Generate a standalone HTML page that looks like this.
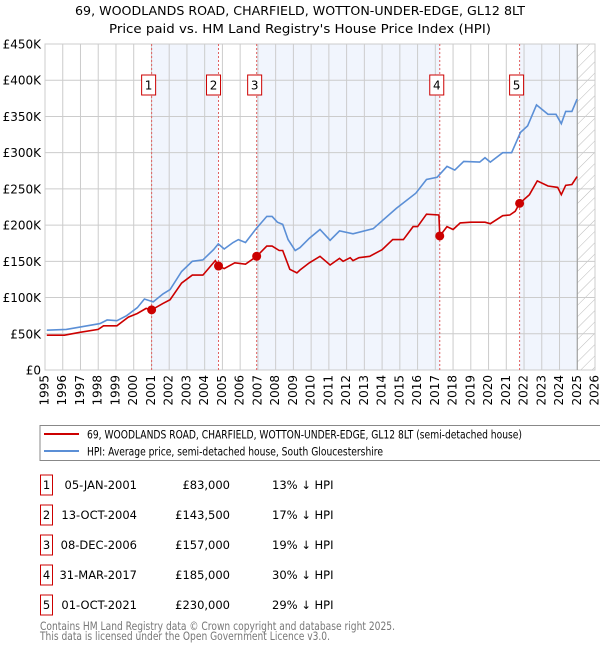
<!DOCTYPE html>
<html><head><meta charset="utf-8"><style>
body{margin:0;background:#fff;font-family:"DejaVu Sans","Liberation Sans",sans-serif;}
#wrap{position:relative;width:600px;height:650px;overflow:hidden;}
svg text{font-family:"DejaVu Sans","Liberation Sans",sans-serif;}
</style></head><body>
<div id="wrap">
<svg id="chart" width="600" height="650" style="position:absolute;left:0;top:0"></svg>
</div>
<script>
const yearTicks=[1995,1996,1997,1998,1999,2000,2001,2002,2003,2004,2005,2006,2007,2008,2009,2010,2011,2012,2013,2014,2015,2016,2017,2018,2019,2020,2021,2022,2023,2024,2025,2026];
const valueTicks=[0,50,100,150,200,250,300,350,400,450];
const valueTickLabels=["£0","£50K","£100K","£150K","£200K","£250K","£300K","£350K","£400K","£450K"];
const hpiYears=[1995.1,1996.2,1998.1,1998.5,1999.05,1999.6,2000.2,2000.6,2001.1,2001.65,2002.05,2002.7,2003.3,2003.9,2004.5,2004.77,2005.1,2005.6,2005.9,2006.3,2006.9,2007.5,2007.8,2008.1,2008.4,2008.7,2009.1,2009.37,2009.9,2010.5,2011.07,2011.6,2012.36,2013.5,2014.8,2015.9,2016.5,2017.1,2017.66,2018.1,2018.6,2019.5,2019.8,2020.1,2020.8,2021.3,2021.8,2022.2,2022.7,2023.35,2023.8,2024.1,2024.35,2024.7,2024.99];
const hpiValues=[55,56,64,69,68,75,86,98,94,105,111,136,150,152,166,174,167,176,180,176,195,212,212,204,201,180,165,169,182,194,179,192,188,195,223,244,263,266,281,276,288,287,293,287,300,300,328,337,366,353,353,340,357,357,374];
const priceYears=[1995.1,1996.1,1996.97,1998,1998.3,1999.05,1999.7,2000.2,2000.7,2001.01,2001.65,2002.05,2002.7,2003.3,2003.9,2004.6,2004.78,2005.1,2005.7,2006.3,2006.93,2007.5,2007.8,2008.2,2008.4,2008.8,2009.2,2009.37,2009.9,2010.5,2011.07,2011.6,2011.8,2012.2,2012.36,2012.7,2013.3,2014.0,2014.6,2015.2,2015.75,2016.0,2016.5,2017.2,2017.25,2017.66,2018.0,2018.4,2019.0,2019.8,2020.1,2020.8,2021.2,2021.5,2021.75,2022.3,2022.75,2023.35,2023.9,2024.1,2024.35,2024.7,2024.99];
const priceValues=[48,48,52,56,61,61,73,78,85,83,92,97,120,131,131,151,143.5,140,148,146,157,171,171,165,165,139,134,138,148,157,145,154,150,155,151,155,157,166,180,180,198,198,215,214,185,198,194,203,204,204,202,213,214,219,230,242,261,254,252,242,255,256,267];
const saleYears=[2001.01,2004.78,2006.93,2017.25,2021.75];
const salePrices=[83,143.5,157,185,230];
const saleLabels=["1","2","3","4","5"];
const saleDates=["05-JAN-2001","13-OCT-2004","08-DEC-2006","31-MAR-2017","01-OCT-2021"];
const salePriceText=["£83,000","£143,500","£157,000","£185,000","£230,000"];
const saleDiff=["13% ↓ HPI","17% ↓ HPI","19% ↓ HPI","30% ↓ HPI","29% ↓ HPI"];

const L=45,R=595,T=44,B=370,Y0=1995,Y1=2026,VMAX=450;
const xs=y=>L+(y-Y0)/(Y1-Y0)*(R-L);
const ys=v=>B-v/VMAX*(B-T);
const NS="http://www.w3.org/2000/svg";
const svg=document.getElementById('chart');
function mk(tag,attrs,parent){const e=document.createElementNS(NS,tag);for(const k in attrs)e.setAttribute(k,attrs[k]);(parent||svg).appendChild(e);return e;}

const defs=mk('defs',{});
const pat=mk('pattern',{id:'hatch',width:8,height:8,patternUnits:'userSpaceOnUse',patternTransform:'rotate(45)'},defs);
mk('line',{x1:0,y1:0,x2:0,y2:8,stroke:'#bbb','stroke-width':1},pat);

const bandStarts=[0,2,4];
for(const i of bandStarts){
  const x0=xs(saleYears[i]);const x1=i+1<saleYears.length?xs(saleYears[i+1]):xs(2025.0);
  const r=mk('rect',{x:x0,y:T,width:x1-x0,height:B-T,fill:'#eef3fc',opacity:0.8});
  
  
}
const hx=mk('rect',{x:xs(2025.0),y:T,width:R-xs(2025.0),height:B-T,fill:'url(#hatch)'});



for(const yr of yearTicks){
  const g=mk('line',{x1:xs(yr),x2:xs(yr),y1:T,y2:B,stroke:'#cccccc','stroke-width':1});
  
  
  const t=mk('text',{x:xs(yr),y:B+5,'font-size':12,'text-anchor':'end','dominant-baseline':'middle',transform:`rotate(-90 ${xs(yr)} ${B+5})`,fill:'#000'});
  t.textContent=yr;
  
  
}
valueTicks.forEach((v,i)=>{
  const g=mk('line',{x1:L,x2:R,y1:ys(v),y2:ys(v),stroke:'#cccccc','stroke-width':1});
  
  
  const t=mk('text',{x:L-4,y:ys(v)+4.5,'font-size':12,'text-anchor':'end',fill:'#000'});
  t.textContent=valueTickLabels[i];
  
  
});
const ax=mk('rect',{x:L,y:T,width:R-L,height:B-T,fill:'none',stroke:'#cccccc'});


const nowL=mk('line',{x1:xs(2025.0),x2:xs(2025.0),y1:T,y2:B,stroke:'#999','stroke-width':1});



saleYears.forEach((y,i)=>{
  const l=mk('line',{x1:xs(y),x2:xs(y),y1:T,y2:B,stroke:'#e06060','stroke-width':1,'stroke-dasharray':'2,2'});
  
  
});

function path(xv,yv){return xv.map((x,i)=>(i?'L':'M')+xs(x).toFixed(1)+','+ys(yv[i]).toFixed(1)).join(' ');}
const hp=mk('path',{d:path(hpiYears,hpiValues),fill:'none',stroke:'#5b8fd6','stroke-width':1.6});


const pp=mk('path',{d:path(priceYears,priceValues),fill:'none',stroke:'#cc0000','stroke-width':1.6});



saleYears.forEach((y,i)=>{
  const c=mk('circle',{cx:xs(y),cy:ys(salePrices[i]),r:4.5,fill:'#cc0000'});
  
  
  const bx=xs(y)-7-(i==1?5:i==2?2:3);
  const g=mk('g',{});
  
  
  mk('rect',{x:bx,y:75,width:14,height:20,fill:'#fff',stroke:'#cc0000','stroke-width':1},g);
  const t=mk('text',{x:bx+7,y:89.5,'font-size':12,'text-anchor':'middle',fill:'#000'},g);
  t.textContent=saleLabels[i];
});

const t1=mk('text',{x:300,y:15,'font-size':12.5,'text-anchor':'middle',fill:'#000',textLength:450,lengthAdjust:'spacingAndGlyphs'});
t1.textContent="69, WOODLANDS ROAD, CHARFIELD, WOTTON-UNDER-EDGE, GL12 8LT";


const t2=mk('text',{x:300,y:33,'font-size':12.5,'text-anchor':'middle',fill:'#000',textLength:382,lengthAdjust:'spacingAndGlyphs'});
t2.textContent="Price paid vs. HM Land Registry's House Price Index (HPI)";



const lg=mk('g',{});


mk('rect',{x:40,y:425.5,width:565,height:35,fill:'#fff',stroke:'#888','stroke-width':1},lg);
mk('line',{x1:44,x2:79,y1:434,y2:434,stroke:'#cc0000','stroke-width':2},lg);
mk('line',{x1:44,x2:79,y1:451,y2:451,stroke:'#5b8fd6','stroke-width':2},lg);
const lt1=mk('text',{x:87,y:438.5,'font-size':11.5,fill:'#000',textLength:435,lengthAdjust:'spacingAndGlyphs'},lg);
lt1.textContent="69, WOODLANDS ROAD, CHARFIELD, WOTTON-UNDER-EDGE, GL12 8LT (semi-detached house)";


const lt2=mk('text',{x:87,y:455.5,'font-size':11.5,fill:'#000',textLength:296,lengthAdjust:'spacingAndGlyphs'},lg);
lt2.textContent="HPI: Average price, semi-detached house, South Gloucestershire";



saleLabels.forEach((lab,i)=>{
  const y=483+i*30;
  const g=mk('g',{});
  
  
  mk('rect',{x:40.5,y:y-8,width:12,height:20,fill:'#fff',stroke:'#cc0000','stroke-width':1},g);
  const a=mk('text',{x:46.5,y:y+6,'font-size':11.5,'text-anchor':'middle',fill:'#000'},g);a.textContent=lab;
  const b=mk('text',{x:137,y:y+6,'font-size':11.5,'text-anchor':'end',fill:'#000'},g);b.textContent=saleDates[i];
  const c=mk('text',{x:230,y:y+6,'font-size':11.5,'text-anchor':'end',fill:'#000'},g);c.textContent=salePriceText[i];
  const d=mk('text',{x:272,y:y+6,'font-size':11.5,fill:'#000'},g);d.textContent=saleDiff[i];
});
const f1=mk('text',{x:40,y:630,'font-size':11.5,fill:'#777',textLength:355,lengthAdjust:'spacingAndGlyphs'});
f1.textContent="Contains HM Land Registry data © Crown copyright and database right 2025.";


const f2=mk('text',{x:40,y:640,'font-size':11.5,fill:'#777',textLength:290,lengthAdjust:'spacingAndGlyphs'});
f2.textContent="This data is licensed under the Open Government Licence v3.0.";


</script>
</body></html>
